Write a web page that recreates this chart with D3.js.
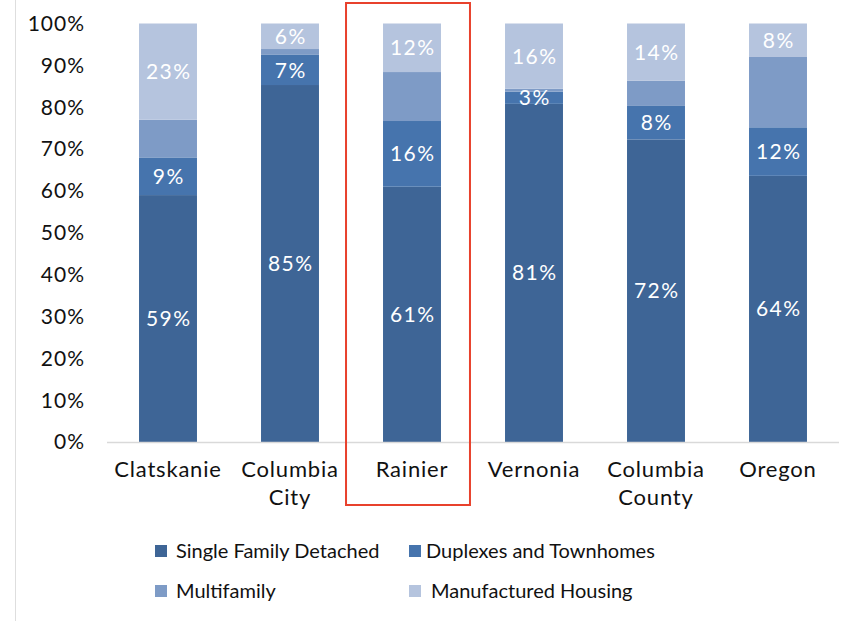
<!DOCTYPE html>
<html>
<head>
<meta charset="utf-8">
<script src="https://cdn.jsdelivr.net/npm/d3@7"></script>
<style>
  body { margin: 0; background: #fff; }
  #viz_container { width: 862px; height: 621px; }
  text { font-family: "Lato", "Open Sans", sans-serif; }
</style>
</head>
<body>
<div id="viz_container"></div>
<script>
// Chart data (shares in %)
const places = [["Clatskanie"], ["Columbia", "City"], ["Rainier"], ["Vernonia"], ["Columbia", "County"], ["Oregon"]];
const seriesNames = ["Single Family Detached", "Duplexes and Townhomes", "Multifamily", "Manufactured Housing"];
const singleFamily = [59, 85.3, 61, 80.8, 72.3, 63.6];
const duplexes = [9, 7.2, 15.7, 2.9, 8, 11.6];
const multifamily = [9, 1.4, 11.7, 0.7, 6, 16.8];
const manufactured = [23, 6.1, 11.6, 15.6, 13.7, 8];
const yTicks = [0, 10, 20, 30, 40, 50, 60, 70, 80, 90, 100];
const labelled = [true, true, false, true]; // multifamily has no value labels
const highlight = "Rainier";

const colors = ["#3e6596", "#4674ad", "#7e9bc6", "#b5c4de"];

const width = 862, height = 621;
const svg = d3.select("#viz_container").append("svg")
  .attr("width", width).attr("height", height);

const names = places.map(d => d.join(" "));
const rows = names.map((n, i) => ({
  name: n,
  "0": singleFamily[i], "1": duplexes[i], "2": multifamily[i], "3": manufactured[i]
}));
const stacked = d3.stack().keys(["0", "1", "2", "3"])(rows);

const x = d3.scaleBand().domain(names).range([107, 839])
  .paddingInner(0.525).paddingOuter(0.2625);
const y = d3.scaleLinear().domain([0, 100]).range([442, 23.5]);

// left frame line
svg.append("line").attr("x1", 15.5).attr("x2", 15.5).attr("y1", 0).attr("y2", height)
  .attr("stroke", "#dedede").attr("stroke-width", 1);

// y axis labels
svg.append("g").selectAll("text").data(yTicks).join("text")
  .attr("x", 85).attr("y", d => y(d)).attr("dy", "0.35em")
  .attr("text-anchor", "end").attr("font-size", 21).attr("letter-spacing", 1)
  .attr("fill", "#111")
  .text(d => d + "%");

// bars
const layer = svg.append("g").selectAll("g").data(stacked).join("g")
  .attr("fill", (d, i) => colors[i]);
layer.selectAll("rect").data(d => d).join("rect")
  .attr("x", d => x(d.data.name))
  .attr("width", x.bandwidth())
  .attr("y", d => y(d[1]))
  .attr("height", d => y(d[0]) - y(d[1]));

// value labels
const fmt = v => Math.round(v) + "%";
svg.append("g").selectAll("g").data(stacked.filter((s, i) => labelled[i])).join("g")
  .selectAll("text").data(d => d).join("text")
  .attr("x", d => x(d.data.name) + x.bandwidth() / 2 + 0.75)
  .attr("y", d => y((d[0] + d[1]) / 2)).attr("dy", "0.36em")
  .attr("text-anchor", "middle").attr("font-size", 21).attr("letter-spacing", 1.5)
  .attr("fill", "#fff")
  .text(d => fmt(d[1] - d[0]));

// x axis line
svg.append("line").attr("x1", 107).attr("x2", 839).attr("y1", 442.5).attr("y2", 442.5)
  .attr("stroke", "#d9d9d9").attr("stroke-width", 1.5);

// category labels
const cat = svg.append("g").selectAll("text").data(places).join("text")
  .attr("x", (d, i) => x(names[i]) + x.bandwidth() / 2)
  .attr("y", 477).attr("text-anchor", "middle")
  .attr("font-size", 22).attr("letter-spacing", 0.8).attr("fill", "#111");
cat.selectAll("tspan").data(d => d).join("tspan")
  .attr("x", function () { return this.parentNode.getAttribute("x"); })
  .attr("dy", (d, i) => i === 0 ? 0 : 28)
  .text(d => d);

// highlight box
svg.append("rect")
  .attr("x", x(highlight) - 37).attr("y", 3)
  .attr("width", x.bandwidth() + 66).attr("height", 502)
  .attr("fill", "none").attr("stroke", "#e8412c").attr("stroke-width", 2);

// legend
const legendPos = [[155, 551], [409, 551], [155, 591], [409, 591]];
const textX = [176, 426, 176, 431];
const leg = svg.append("g").selectAll("g").data(seriesNames).join("g");
leg.append("rect")
  .attr("x", (d, i) => legendPos[i][0]).attr("y", (d, i) => legendPos[i][1] - 6)
  .attr("width", 12).attr("height", 12)
  .attr("fill", (d, i) => colors[i]);
leg.append("text")
  .attr("x", (d, i) => textX[i]).attr("y", (d, i) => legendPos[i][1]).attr("dy", "0.35em")
  .attr("font-size", 20).attr("fill", "#111")
  .text(d => d);
</script>
</body>
</html>
